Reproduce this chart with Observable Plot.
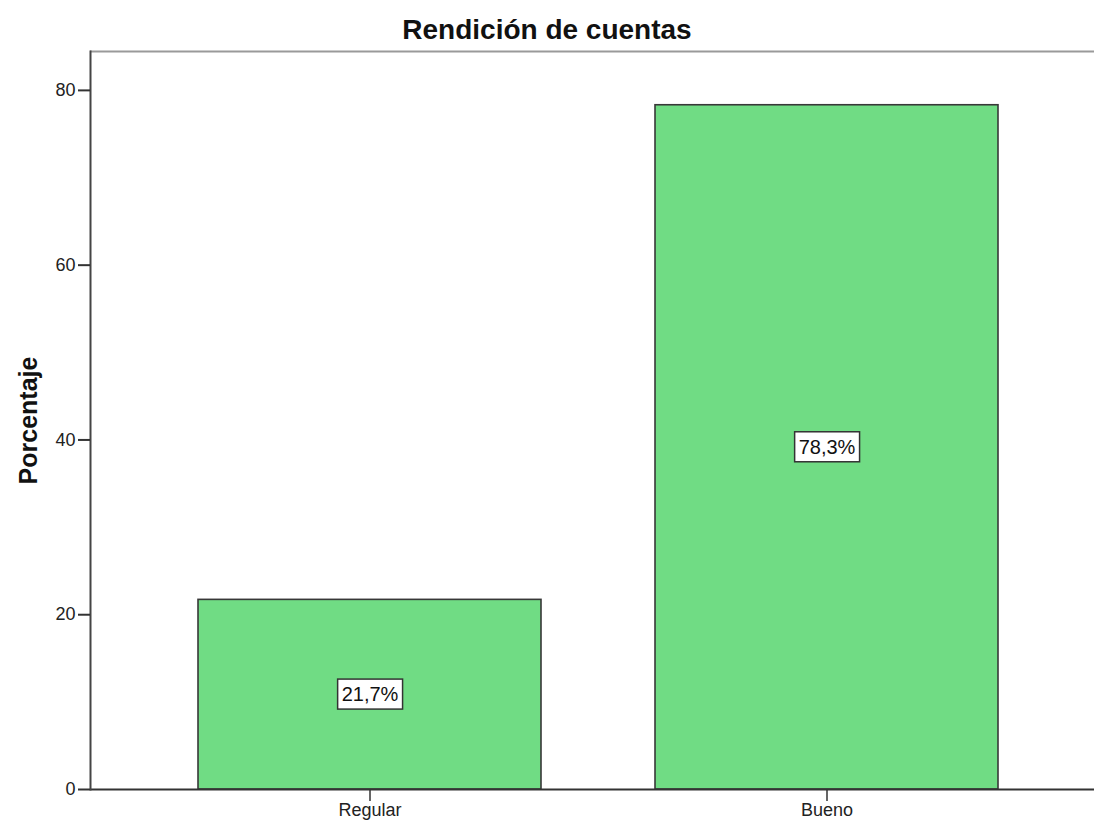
<!DOCTYPE html>
<html>
<head>
<meta charset="utf-8">
<script src="https://cdn.jsdelivr.net/npm/d3@7"></script>
<script src="https://cdn.jsdelivr.net/npm/@observablehq/plot@0.6"></script>
<style>
  html, body { margin: 0; padding: 0; background: #fff; }
  #title { height: 45px; box-sizing: border-box; padding-top: 16px; text-align: center;
    font: bold 28px "Liberation Sans", Arial, sans-serif; line-height: 28px; color: #111; }
  svg { display: block; }
</style>
</head>
<body>
<div id="title">Rendición de cuentas</div>
<div id="chart"></div>
<script>
const categories = ["Regular", "Bueno"];
const percentages = [21.7, 78.3];
const yTicks = [0, 20, 40, 60, 80];
const yLabel = "Porcentaje";

const data = categories.map((c, i) => ({ category: c, value: percentages[i],
  label: percentages[i].toFixed(1).replace(".", ",") + "%" }));
const yMax = 84.45;

const plot = Plot.plot({
  width: 1094,
  height: 782,
  marginTop: 6,
  marginBottom: 38,
  marginLeft: 90,
  marginRight: 0,
  style: { fontFamily: "'Liberation Sans', Arial, sans-serif", color: "#222", background: "#fff" },
  x: { domain: categories, range: [90, 1106], paddingInner: 0.25, paddingOuter: 0.236 },
  y: { domain: [0, yMax] },
  marks: [
    Plot.barY(data, { x: "category", y: "value", fill: "#70DC84", stroke: "#383838", strokeWidth: 1.6 }),
    Plot.ruleY([yMax], { stroke: "#9a9a9a", strokeWidth: 2 }),
    Plot.ruleY([0], { stroke: "#333", strokeWidth: 2 }),
    Plot.frame({ anchor: "left", stroke: "#444", strokeWidth: 2 }),
    Plot.axisY({ ticks: yTicks, tickSize: 12, tickPadding: 3, fontSize: 18, stroke: "#333", strokeWidth: 2, label: null }),
    Plot.axisX({ tickSize: 12, tickPadding: 2, fontSize: 18, stroke: "#333", strokeWidth: 1.5, label: null }),
    Plot.text(data, { x: "category", y: d => d.value / 2, text: "label", fontSize: 20, fill: "#111", className: "boxlabel" }),
    Plot.text([yLabel], { frameAnchor: "left", rotate: -90, dx: -62, textAnchor: "middle", lineAnchor: "middle", text: d => d, fontSize: 25, fontWeight: "bold", fill: "#111" })
  ]
});
document.getElementById("chart").appendChild(plot);

// White boxes behind the value labels
d3.select(plot).selectAll("g.boxlabel text").each(function () {
  const bb = this.getBBox();
  const padX = 4, padY = 4;
  const t = this.getAttribute("transform");
  const r = document.createElementNS("http://www.w3.org/2000/svg", "rect");
  r.setAttribute("x", bb.x - padX);
  r.setAttribute("y", bb.y - padY);
  r.setAttribute("width", bb.width + 2 * padX);
  r.setAttribute("height", bb.height + 2 * padY);
  if (t) r.setAttribute("transform", t);
  r.setAttribute("fill", "#fff");
  r.setAttribute("stroke", "#333");
  r.setAttribute("stroke-width", "1.5");
  this.parentNode.insertBefore(r, this);
});
</script>
</body>
</html>
